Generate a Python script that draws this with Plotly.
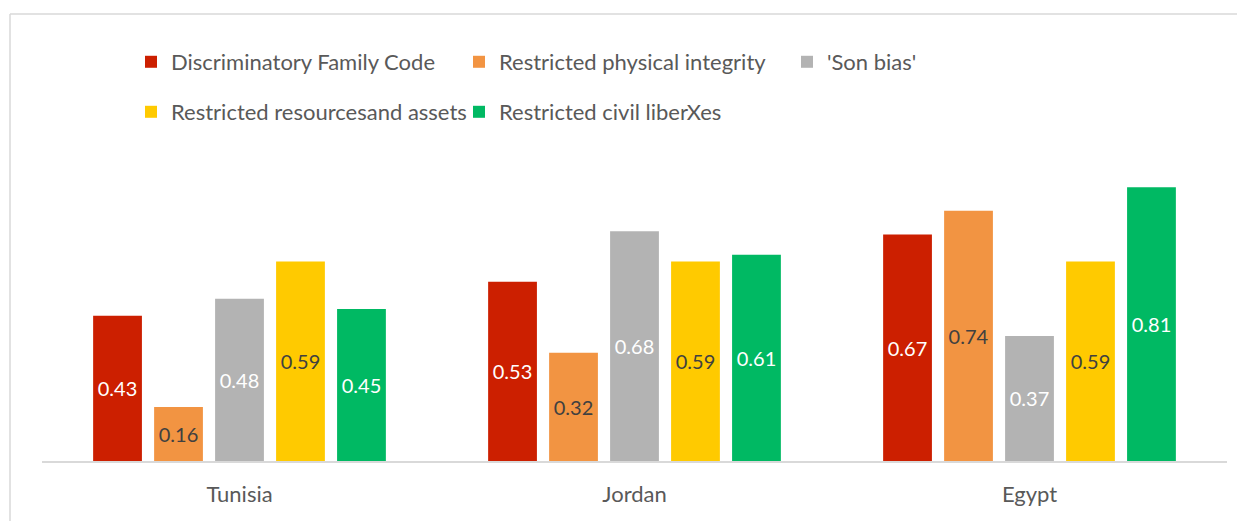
import plotly.graph_objects as go

countries = ["Tunisia", "Jordan", "Egypt"]
series_names = ["Discriminatory Family Code", "Restricted physical integrity", "'Son bias'",
                "Restricted resourcesand assets", "Restricted civil liberXes"]
family_code = [0.43, 0.53, 0.67]
physical_integrity = [0.16, 0.32, 0.74]
son_bias = [0.48, 0.68, 0.37]
resources_assets = [0.59, 0.59, 0.59]
civil_liberties = [0.45, 0.61, 0.81]

values = [family_code, physical_integrity, son_bias, resources_assets, civil_liberties]
colors = ["#cc1f00", "#f29442", "#b3b3b3", "#ffca00", "#00b963"]
text_colors = ["#ffffff", "#404040", "#ffffff", "#404040", "#ffffff"]
legend_ids = ["legend", "legend", "legend", "legend2", "legend2"]

FONT = "Lato, 'Open Sans', sans-serif"

fig = go.Figure()
for name, vals, col, tcol, lg in zip(series_names, values, colors, text_colors, legend_ids):
    fig.add_trace(go.Bar(
        name=name, x=countries, y=vals, marker_color=col, marker_line_width=0,
        text=[f"{v:.2f}" for v in vals], textposition="inside", insidetextanchor="middle",
        textangle=0, textfont=dict(family=FONT, size=20, color=tcol), legend=lg,
    ))

leg_common = dict(orientation="h", xanchor="left", yanchor="middle",
                  entrywidth=283, entrywidthmode="pixels", traceorder="normal",
                  font=dict(family=FONT, size=22, color="#595959"),
                  bgcolor="rgba(0,0,0,0)", itemwidth=30)

border = dict(color="#d9d9d9", width=1.5)

fig.update_layout(
    width=1237, height=513,
    margin=dict(l=34, r=18, t=12, b=60, autoexpand=False),
    paper_bgcolor="white", plot_bgcolor="rgba(0,0,0,0)",
    barmode="group", bargap=0.228, bargroupgap=0.2,
    font=dict(family=FONT, size=22, color="#595959"),
    showlegend=True,
    legend=dict(x=0.0751, y=0.9048, **leg_common),
    legend2=dict(x=0.0751, y=0.7914, **leg_common),
    xaxis=dict(showline=True, linecolor="#d9d9d9", linewidth=1.5, showgrid=False,
               ticks="", ticklabelstandoff=13, tickfont=dict(family=FONT, size=22, color="#595959")),
    yaxis=dict(range=[0, 1.3047], visible=False, showgrid=False, zeroline=False),
    shapes=[
        dict(type="line", xref="paper", yref="paper", x0=-0.027, x1=1.2, y0=1.0136, y1=1.0136,
             line=border, layer="below"),
        dict(type="line", xref="paper", yref="paper", x0=-0.027, x1=-0.027, y0=-0.5, y1=1.0136,
             line=border, layer="below"),
    ],
)

fig.write_html("out.html")
